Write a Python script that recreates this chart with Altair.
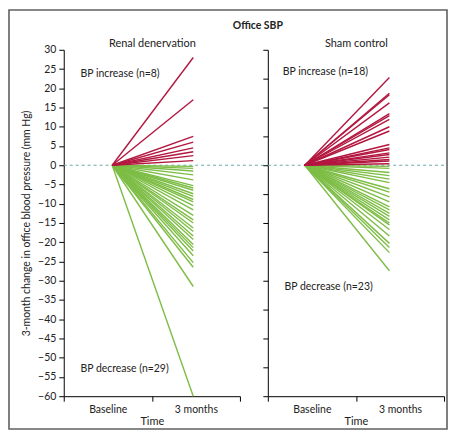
import altair as alt
import pandas as pd

# ---- data (3-month change in office SBP, mm Hg) ----
time_points = ["Baseline", "3 months"]
rdn_increase = [28, 17, 7.5, 6, 4.5, 3.5, 2.5, 1.2]
rdn_decrease = [-0.3, -0.8, -1.5, -2.5, -3.8, -5.3, -5.9, -6.5, -7.4, -8.1,
                -8.9, -9.5, -10.5, -11.6, -13, -14.2, -15, -16.3, -17.2, -18.4,
                -19.3, -20.6, -21.4, -22.3, -23.5, -25.3, -26.5, -31.5, -60]
sham_increase = [22.8, 18.7, 18.3, 16.2, 13.4, 12.9, 11.9, 10, 8.9, 5.4,
                 4.5, 4.1, 3.2, 2.8, 2.1, 1.5, 1.1, 0.4]
sham_decrease = [-0.3, -0.8, -1.9, -2.7, -3.6, -4.5, -6.1, -7, -8.2, -9.5,
                 -10.8, -11.6, -12.5, -13.3, -14.2, -15, -15.5, -16.7, -18.4, -20.3,
                 -21.4, -22.7, -27.4]
y_ticks_left = list(range(-60, 31, 5))
y_ticks_right = [30 - 7.5 * k for k in range(13)]

RED = "#b3173f"
GREEN = "#7dbd45"
TEAL = "#6aa8a8"
TXT = "#222222"
FONT = "Lato"
W, H = 177, 348


def long_df(inc, dec, x0, x1):
    rows = []
    sid = 0
    for direction, vals in (("decrease", dec), ("increase", inc)):
        for v in vals:
            sid += 1
            rows.append({"id": sid, "pos": x0, "change": 0.0, "dir": direction})
            rows.append({"id": sid, "pos": x1, "change": v, "dir": direction})
    return pd.DataFrame(rows)


label_expr = ("datum.value == 0.5 ? '%s' : (datum.value == 1.5 ? '%s' : '')"
              % (time_points[0], time_points[1]))

x_scale = alt.Scale(domain=[0, 2], nice=False, zero=False)
y_scale = alt.Scale(domain=[-60, 30], nice=False, zero=False)


def panel(df, title, left, notes):
    x_axis = alt.Axis(values=[0, 0.5, 1, 1.5, 2], labelExpr=label_expr, title="Time",
                      tickSize=5, labelPadding=3, titlePadding=1, labelFlush=False,
                      labelOverlap=False, grid=False, domainColor="black",
                      tickColor="black", labelFont=FONT, titleFont=FONT,
                      labelFontSize=10.5, titleFontSize=11, titleFontWeight="normal",
                      labelColor=TXT, titleColor=TXT,
                      tickOpacity={"condition": {"test": "datum.value % 1 != 0", "value": 0}, "value": 1})
    if left:
        y_axis = alt.Axis(values=y_ticks_left, title="3-month change in office blood pressure (mm Hg)",
                          tickSize=5, labelPadding=3, titlePadding=6, grid=False,
                          domainColor="black", tickColor="black", labelFont=FONT,
                          titleFont=FONT, labelFontSize=10.5, titleFontSize=10.5,
                          titleFontWeight="normal", labelColor=TXT, titleColor=TXT)
    else:
        y_axis = alt.Axis(values=y_ticks_right, title=None, labels=False, tickSize=5,
                          grid=False, domainColor="black", tickColor="black")

    X = alt.X("pos:Q", scale=x_scale, axis=x_axis)
    Y = alt.Y("change:Q", scale=y_scale, axis=y_axis)

    lines = alt.Chart(df).mark_line(strokeWidth=1.4).encode(
        x=X, y=Y,
        detail="id:N",
        order="pos:Q",
        color=alt.Color("dir:N", scale=alt.Scale(domain=["increase", "decrease"], range=[RED, GREEN]),
                        legend=None),
    )
    zero = alt.Chart(pd.DataFrame({"change": [0]})).mark_rule(
        color=TEAL, strokeDash=[3, 3], strokeWidth=1
    ).encode(y=Y, x=alt.value(0), x2=alt.value(W + 28 if left else W))

    note_df = pd.DataFrame(notes)
    text = alt.Chart(note_df).mark_text(align="left", baseline="middle", font=FONT,
                                        fontSize=10.5, color=TXT).encode(
        x=X, y=Y, text="label:N")

    head = alt.Chart(pd.DataFrame({"t": [title]})).mark_text(
        align="center", baseline="middle", font=FONT, fontSize=11, color=TXT
    ).encode(x=alt.value(W / 2 + 0.5), y=alt.value(-6), text="t:N")

    layers = []
    if left:
        frame = alt.Chart(pd.DataFrame({"f": [0]})).mark_rect(
            fill="#ffffff", fillOpacity=0, stroke="#606060", strokeWidth=1.6
        ).encode(x=alt.value(-55), x2=alt.value(385), y=alt.value(-40), y2=alt.value(381))
        main_title = alt.Chart(pd.DataFrame({"t": ["Office SBP"]})).mark_text(
            align="center", baseline="middle", font=FONT, fontSize=10.5,
            fontWeight="bold", color=TXT
        ).encode(x=alt.value(195), y=alt.value(-24), text="t:N")
        layers += [frame, main_title]
    layers += [zero, lines, text, head]
    return alt.layer(*layers).properties(width=W, height=H)


left_chart = panel(long_df(rdn_increase, rdn_decrease, 0.55, 1.47), "Renal denervation", True,
                   {"pos": [0.19, 0.19], "change": [23.6, -53.0],
                    "label": ["BP increase (n=%d)" % len(rdn_increase),
                              "BP decrease (n=%d)" % len(rdn_decrease)]})
right_chart = panel(long_df(sham_increase, sham_decrease, 0.42, 1.38), "Sham control", False,
                    {"pos": [0.17, 0.19], "change": [24.2, -31.7],
                     "label": ["BP increase (n=%d)" % len(sham_increase),
                               "BP decrease (n=%d)" % len(sham_decrease)]})

chart = alt.hconcat(left_chart, right_chart, spacing=28, bounds="flush").properties(
    padding=0,
).configure_view(stroke=None)

chart.save("out.html", embed_options={"renderer": "svg", "actions": False})
